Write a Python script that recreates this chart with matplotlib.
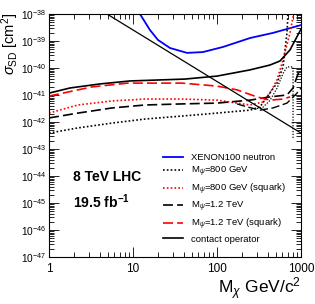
import numpy as np
import matplotlib
matplotlib.use("Agg")
import matplotlib.pyplot as plt
from matplotlib.ticker import FixedLocator, FixedFormatter, LogLocator, NullFormatter

plt.rcParams['font.family'] = ['Liberation Sans', 'DejaVu Sans']
plt.rcParams['mathtext.fontset'] = 'custom'
plt.rcParams['mathtext.rm'] = 'Liberation Sans'
plt.rcParams['mathtext.it'] = 'Liberation Sans:italic'
plt.rcParams['mathtext.bf'] = 'Liberation Sans:bold'

# ---- data (mass in GeV/c^2, cross-section as log10 of cm^2) ----
xenon_m = [11.0, 12.1, 15.9, 19.8, 27.6, 44, 68, 118, 247, 464, 1000]
xenon_log = [-37.7, -38.0, -38.59, -38.96, -39.26, -39.44, -39.41, -39.22, -38.89, -38.70, -38.41]

m800_m = [1, 2.21, 5.62, 13.9, 38.3, 100, 247, 325, 394, 518, 611, 681, 700, 720]
m800_log = [-42.41, -42.22, -42.04, -41.89, -41.78, -41.67, -41.56, -41.44, -41.07, -40.56, -39.96, -38.70, -37.96, -37.5]

m800b_m = [299, 353, 427, 518, 611, 681, 740, 804, 804]
m800b_log = [-41.50, -41.45, -41.20, -40.75, -40.20, -39.96, -39.96, -39.96, -42.62]

m800sq_m = [1, 2.21, 5.62, 13.9, 38.3, 100, 173, 247, 353, 427, 518, 611, 740, 804, 840]
m800sq_log = [-41.67, -41.37, -41.22, -41.15, -41.15, -41.19, -41.30, -41.37, -41.26, -40.93, -40.44, -39.70, -38.70, -38.11, -37.8]

m1200_m = [1, 2.21, 5.62, 13.9, 38.3, 100, 247, 427, 681, 804, 921, 1000]
m1200_log = [-41.85, -41.67, -41.48, -41.37, -41.33, -41.30, -41.19, -41.07, -41.00, -40.74, -40.22, -40.04]

m1200b_m = [173, 228, 325, 464, 681, 896, 1000]
m1200b_log = [-41.33, -41.44, -41.56, -41.48, -41.30, -40.93, -40.74]

m1200sq_m = [1, 3.25, 8.7, 38.3, 100, 173, 299, 427, 611, 740]
m1200sq_log = [-41.04, -40.70, -40.56, -40.56, -40.67, -40.81, -41.07, -41.19, -41.15, -41.07]

contact_m = [1, 1.78, 4.05, 9.2, 41.5, 100, 247, 427, 562, 740, 1000]
contact_log = [-40.93, -40.74, -40.59, -40.48, -40.41, -40.30, -40.07, -39.89, -39.74, -39.33, -38.56]

line_m = [4.9, 1000]
line_log = [-38.0, -42.41]

legend_labels = ["XENON100 neutron", r"M$_{\psi}$=800 GeV", r"M$_{\psi}$=800 GeV (squark)",
                 r"M$_{\psi}$=1.2 TeV", r"M$_{\psi}$=1.2 TeV (squark)", "contact operator"]

ytick_exp = list(range(-47, -37))
xtick_vals = [1, 10, 100, 1000]

# ---- figure ----
fig = plt.figure(figsize=(3.15, 3.04), dpi=100)
ax = fig.add_axes([49/315, 1-257/304, 252/315, 243/304])

def s(v):
    return 10.0 ** np.array(v)

lw = 1.2
dash = (6, 2.5)
dot = (1, 1.3)
h_x, = ax.plot(xenon_m, s(xenon_log), color='blue', lw=1.3)
h_800, = ax.plot(m800_m, s(m800_log), color='black', lw=lw, dashes=dot)
ax.plot(m800b_m, s(m800b_log), color='black', lw=0.9, dashes=dot)
h_800sq, = ax.plot(m800sq_m, s(m800sq_log), color='red', lw=lw, dashes=dot)
h_12, = ax.plot(m1200_m, s(m1200_log), color='black', lw=lw, dashes=dash)
ax.plot(m1200b_m, s(m1200b_log), color='black', lw=1.0, dashes=dash)
h_12sq, = ax.plot(m1200sq_m, s(m1200sq_log), color='red', lw=lw, dashes=dash)
h_c, = ax.plot(contact_m, s(contact_log), color='black', lw=lw)
ax.plot(line_m, s(line_log), color='black', lw=0.9)

ax.set_xscale('log')
ax.set_yscale('log')
ax.set_xlim(1, 1000)
ax.set_ylim(1e-47, 1e-38)

ax.yaxis.set_major_locator(FixedLocator([10.0**e for e in ytick_exp]))
ax.yaxis.set_major_formatter(FixedFormatter([r"$10^{%d}$" % e for e in ytick_exp]))
ax.yaxis.set_minor_locator(LogLocator(base=10, subs=np.arange(2, 10), numticks=100))
ax.yaxis.set_minor_formatter(NullFormatter())
ax.xaxis.set_major_locator(FixedLocator(xtick_vals))
ax.xaxis.set_major_formatter(FixedFormatter([str(v) for v in xtick_vals]))
ax.xaxis.set_minor_locator(LogLocator(base=10, subs=np.arange(2, 10), numticks=100))
ax.xaxis.set_minor_formatter(NullFormatter())

ax.tick_params(which='both', direction='in', top=True, right=True, labelsize=8.5, width=0.6)
ax.tick_params(axis='y', which='major', labelsize=7.3, pad=2)
ax.tick_params(which='major', length=7)
ax.tick_params(axis='x', which='major', pad=4)
ax.tick_params(which='minor', length=3.5)
for sp in ax.spines.values():
    sp.set_linewidth(0.8)

fig.text(10.5/315, 1-13/304, r"$\sigma_{\rm SD}$ [cm$^{2}$]", rotation=90, ha='center', va='top', fontsize=10.5)
fig.text(301/315, 1-294/304, r"M$_{\chi}$ GeV/c$^{2}$", ha='right', va='baseline', fontsize=12.5)

ax.text(73/315, 1-177/304, "8 TeV LHC", transform=fig.transFigure, fontsize=10, fontweight='bold', va='center', ha='left')
ax.text(73/315, 1-202/304, r"19.5 fb$^{\mathbf{-1}}$", transform=fig.transFigure, fontsize=10, fontweight='bold', va='center', ha='left')

leg = ax.legend([h_x, h_800, h_800sq, h_12, h_12sq, h_c], legend_labels,
                loc='upper left', bbox_to_anchor=(163/315, 1-153/304), bbox_transform=fig.transFigure,
                frameon=False, fontsize=6.8, handlelength=2.1, handletextpad=0.85,
                borderpad=0, borderaxespad=0, labelspacing=0.3)

fig.savefig("out.png", dpi=100)
